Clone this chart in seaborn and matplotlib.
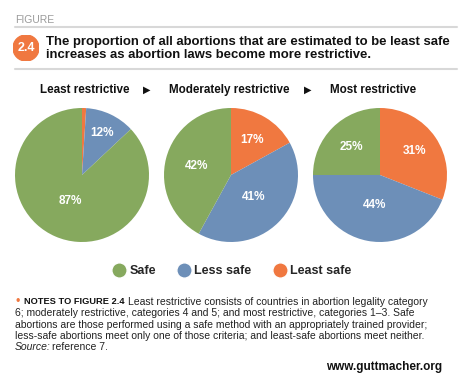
import numpy as np
import matplotlib
matplotlib.use("Agg")
import matplotlib.pyplot as plt
import seaborn as sns
from matplotlib.lines import Line2D
from matplotlib.patches import Circle

# data
groups = ["Least restrictive", "Moderately restrictive", "Most restrictive"]
categories = ["Least safe", "Less safe", "Safe"]
least_safe = [1, 17, 31]
less_safe = [12, 41, 44]
safe = [87, 42, 25]
legend_order = ["Safe", "Less safe", "Least safe"]

title_lines = ["The proportion of all abortions that are estimated to be least safe",
               "increases as abortion laws become more restrictive."]
notes_lines = [
    "Least restrictive consists of countries in abortion legality category",
    "6; moderately restrictive, categories 4 and 5; and most restrictive, categories 1\u20133. Safe",
    "abortions are those performed using a safe method with an appropriately trained provider;",
    "less-safe abortions meet only one of those criteria; and least-safe abortions meet neither.",
]

sns.set_theme(style="white")
plt.rcParams["font.family"] = ["Liberation Sans", "DejaVu Sans"]

colors = {"Safe": "#86a95e", "Less safe": "#6d8fb8", "Least safe": "#f07840"}
W, H = 474, 383
fig = plt.figure(figsize=(W / 100, H / 100), dpi=100)
fig.patch.set_facecolor("white")
renderer = fig.canvas.get_renderer()

def fx(x):
    return x / W

def fy(y):
    return 1 - y / H

def right_edge(t):
    # pixel x of the right end of a text
    return t.get_window_extent(renderer).x1

# header
fig.text(fx(15), fy(20), "FIGURE", fontsize=7.5, color="#9a9a9a", va="center")
for yy in (27, 69):
    fig.add_artist(Line2D([fx(15), fx(457)], [fy(yy), fy(yy)], color="#d8d8d8", lw=1.5))
hdr = fig.add_axes([fx(13), fy(61), fx(26), 26 / H])
hdr.set_xlim(0, 1); hdr.set_ylim(0, 1); hdr.axis("off")
hdr.add_patch(Circle((0.5, 0.5), 0.5, color="#f07840"))
hdr.text(0.5, 0.5, "2.4", color="white", fontsize=9, fontweight="bold",
         ha="center", va="center")
for i, line in enumerate(title_lines):
    fig.text(fx(46), fy(42 + 13.5 * i), line, fontsize=9.45, fontweight="bold",
             va="center", color="#111111")

# pies
centers = [82, 231, 380]
label_x = [85, 229, 373]
cy, r = 175, 67
label_dist = [[None, 0.70, 0.43], [0.61, 0.47, 0.53], [0.63, 0.45, 0.60]]
for k, g in enumerate(groups):
    vals = [least_safe[k], less_safe[k], safe[k]]
    ax = fig.add_axes([fx(centers[k] - r), fy(cy + r), 2 * r / W, 2 * r / H])
    wedges, _ = ax.pie(vals, colors=[colors[c] for c in categories],
                       startangle=90, counterclock=False,
                       wedgeprops=dict(linewidth=0))
    ax.set_xlim(-1, 1)
    ax.set_ylim(-1, 1)
    ax.set_aspect("equal")
    for w, v, d in zip(wedges, vals, label_dist[k]):
        if d is None:
            continue
        ang = np.deg2rad((w.theta1 + w.theta2) / 2)
        ax.text(d * np.cos(ang), d * np.sin(ang), f"{v}%", color="white",
                fontsize=8.5, fontweight="bold", ha="center", va="center")
    fig.text(fx(label_x[k]), fy(90), g, fontsize=8.4, fontweight="bold",
             ha="center", va="center", color="#111111")

for xa in (147, 308):
    fig.text(fx(xa), fy(90), "\u25b6", fontsize=7, ha="center", va="center",
             color="#111111", family=["DejaVu Sans"])

# legend
handles = [Line2D([0], [0], marker="o", color="w", markerfacecolor=colors[c],
                  markersize=11, label=c) for c in legend_order]
leg = fig.legend(handles=handles, loc="center", bbox_to_anchor=(fx(231), fy(271)),
                 ncol=3, frameon=False, handletextpad=0.1, columnspacing=1.6,
                 handlelength=1.4, prop=dict(size=9, weight="bold"))

# notes
fs = 7.5
fig.text(fx(16), fy(302), "\u2022", color="#f07840", fontsize=9, va="center")
t = fig.text(fx(24), fy(302), "NOTES TO FIGURE 2.4", fontsize=6.7, fontweight="bold",
             va="center", color="#111111")
fig.text((right_edge(t) + 3) / W, fy(302), notes_lines[0], fontsize=fs,
         va="center", color="#222222")
for i, line in enumerate(notes_lines[1:]):
    fig.text(fx(15), fy(313.3 + 11.2 * (i)), line, fontsize=fs, va="center", color="#222222")
t = fig.text(fx(15), fy(347), "Source:", fontsize=fs, style="italic", va="center",
             color="#222222")
fig.text((right_edge(t) + 1) / W, fy(347), "reference 7.", fontsize=fs, va="center",
         color="#222222")
fig.text(fx(442), fy(367), "www.guttmacher.org", fontsize=8.5, fontweight="bold",
         ha="right", va="center", color="#111111")

fig.savefig("out.png", dpi=100, facecolor="white")
